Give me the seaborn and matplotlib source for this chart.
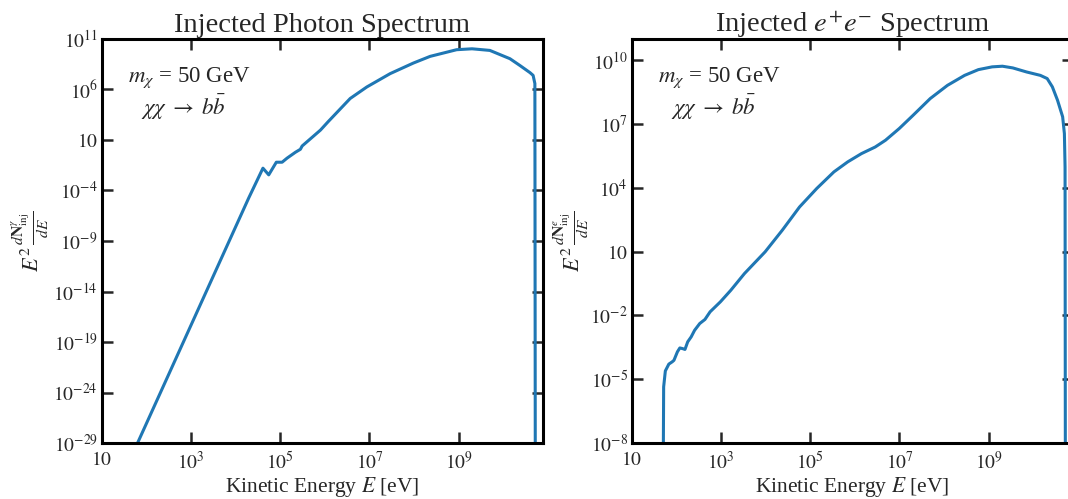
import numpy as np
import pandas as pd
import matplotlib
matplotlib.use("Agg")
import matplotlib.pyplot as plt
import seaborn as sns

# ---------------- data (log10 units) ----------------
# Injected photon spectrum: log10(E/eV) and log10(E^2 dN/dE)
photon_logE = [1.70, 1.798, 4.29, 4.61, 4.74, 4.91, 5.04, 5.15, 5.34, 5.45, 5.49,
               5.60, 5.90, 6.07, 6.567, 6.94, 7.463, 7.985, 8.36, 8.955, 9.30,
               9.70, 10.15, 10.37, 10.60, 10.67, 10.71, 10.72]
photon_logF = [-30.0, -29.0, -4.75, -1.79, -2.45, -1.20, -1.20, -0.80, -0.21, 0.08, 0.41,
               0.83, 1.98, 2.80, 5.11, 6.25, 7.57, 8.62, 9.28, 9.94, 10.03,
               9.87, 9.05, 8.39, 7.67, 7.40, 6.59, -35.0]

# Injected e+e- spectrum
elec_logE = [1.694, 1.710, 1.748, 1.826, 1.903, 1.941, 2.019, 2.073, 2.134, 2.188,
             2.250, 2.327, 2.404, 2.520, 2.636, 2.752, 2.983, 3.215, 3.523, 3.986,
             4.372, 4.758, 5.144, 5.529, 5.838, 6.147, 6.455, 6.687, 6.995, 7.304,
             7.690, 8.076, 8.461, 8.770, 9.079, 9.310, 9.542, 9.850, 10.159, 10.313,
             10.429, 10.545, 10.660, 10.699, 10.714, 10.722]
elec_logF = [-12.0, -5.36, -4.61, -4.29, -4.18, -4.11, -3.71, -3.53, -3.56, -3.60,
             -3.24, -3.01, -2.70, -2.38, -2.19, -1.83, -1.36, -0.82, -0.03, 0.99,
             2.01, 3.10, 3.97, 4.75, 5.22, 5.61, 5.92, 6.24, 6.79, 7.41,
             8.20, 8.82, 9.29, 9.56, 9.69, 9.72, 9.64, 9.45, 9.29, 9.14,
             8.75, 8.12, 7.34, 6.55, 4.98, -12.0]

x_ticks = [1e1, 1e3, 1e5, 1e7, 1e9]
x_ticklabels = [r"$10$", r"$10^{3}$", r"$10^{5}$", r"$10^{7}$", r"$10^{9}$"]

photon_yticks = [1e11, 1e6, 1e1, 1e-4, 1e-9, 1e-14, 1e-19, 1e-24, 1e-29]
photon_yticklabels = [r"$10^{11}$", r"$10^{6}$", r"$10$", r"$10^{-4}$", r"$10^{-9}$",
                      r"$10^{-14}$", r"$10^{-19}$", r"$10^{-24}$", r"$10^{-29}$"]
elec_yticks = [1e10, 1e7, 1e4, 1e1, 1e-2, 1e-5, 1e-8]
elec_yticklabels = [r"$10^{10}$", r"$10^{7}$", r"$10^{4}$", r"$10$", r"$10^{-2}$",
                    r"$10^{-5}$", r"$10^{-8}$"]

titles = ["Injected Photon Spectrum", r"Injected $e^{+}e^{-}$ Spectrum"]
ylabels = [r"$E^2\,\frac{d\mathbf{N}^{\gamma}_{\rm inj}}{dE}$",
           r"$E^2\,\frac{d\mathbf{N}^{e}_{\rm inj}}{dE}$"]
xlabel = r"Kinetic Energy $E$ [eV]"
annot1 = r"$m_\chi$ = 50 GeV"
annot2 = r"$\chi\chi\;\rightarrow\;b\bar{b}$"

# ---------------- style ----------------
sns.set_style("ticks")
plt.rcParams["font.family"] = ["Liberation Serif", "DejaVu Serif"]
plt.rcParams["mathtext.fontset"] = "stix"

W, H = 1068, 499
fig = plt.figure(figsize=(W / 100, H / 100), dpi=100)
ax1 = fig.add_axes([102 / W, 56 / H, 441 / W, 404 / H])
ax2 = fig.add_axes([632 / W, 56 / H, 441 / W, 404 / H])

blue = "#1f77b4"

def draw(ax, logE, logF, yticks, yticklabels, ylim, title, ylabel, ylab_x):
    df = pd.DataFrame({"E": np.power(10.0, logE), "F": np.power(10.0, logF)})
    sns.lineplot(data=df, x="E", y="F", ax=ax, color=blue, lw=2.2,
                 sort=False, estimator=None)
    ax.set_xscale("log")
    ax.set_yscale("log")
    ax.set_xlim(10, 7.8e10)
    ax.set_ylim(*ylim)
    ax.set_xticks(x_ticks)
    ax.set_xticklabels(x_ticklabels)
    ax.set_yticks(yticks)
    ax.set_yticklabels(yticklabels)
    ax.minorticks_off()
    ax.tick_params(which="major", direction="in", top=True, right=True,
                   length=8, width=1.8, labelsize=14, pad=3)
    ax.tick_params(axis="x", pad=6)
    ax.set_title(title, fontsize=20.5, pad=5)
    ax.set_xlabel(xlabel, fontsize=15.5, labelpad=1)
    ax.set_ylabel(ylabel, fontsize=16)
    ax.yaxis.set_label_coords(ylab_x, 0.5)
    ax.text(0.06, 0.905, annot1, transform=ax.transAxes, fontsize=16.5,
            va="center", ha="left")
    ax.text(0.088, 0.83, annot2, transform=ax.transAxes, fontsize=16.5,
            va="center", ha="left")
    for s in ax.spines.values():
        s.set_visible(True)
        s.set_linewidth(2.2)
        s.set_color("black")

draw(ax1, photon_logE, photon_logF, photon_yticks, photon_yticklabels,
     (1e-29, 1e11), titles[0], ylabels[0], -0.115)
draw(ax2, elec_logE, elec_logF, elec_yticks, elec_yticklabels,
     (1e-8, 1e11), titles[1], ylabels[1], -0.092)

fig.savefig("out.png", dpi=100)
